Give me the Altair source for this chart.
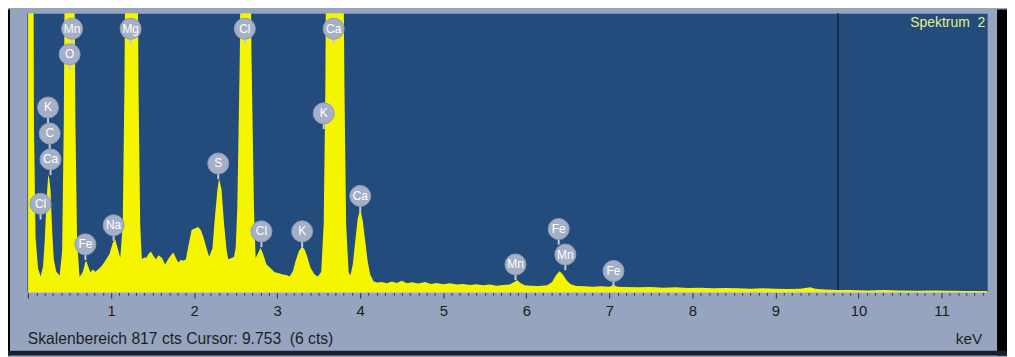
import altair as alt
import pandas as pd

# ---- spectrum ----
ENERGY_KEV = [
    0.00, 0.05, 0.07, 0.09, 0.12, 0.15, 0.18, 0.20, 0.22, 0.24, 0.25, 0.27, 0.29, 0.31, 0.34,
    0.38, 0.41, 0.43, 0.45, 0.50, 0.55, 0.57, 0.59, 0.62, 0.66, 0.69, 0.70, 0.72, 0.75, 0.78,
    0.81, 0.86, 0.89, 0.92, 0.95, 0.98, 1.02, 1.05, 1.08, 1.11, 1.14, 1.16, 1.18, 1.245, 1.31,
    1.33, 1.35, 1.37, 1.40, 1.42, 1.45, 1.48, 1.51, 1.54, 1.57, 1.61, 1.63, 1.65, 1.69, 1.72,
    1.75, 1.78, 1.81, 1.84, 1.87, 1.90, 1.93, 1.97, 2.02, 2.05, 2.08, 2.11, 2.15, 2.18, 2.22,
    2.25, 2.28, 2.30, 2.33, 2.36, 2.39, 2.41, 2.45, 2.48, 2.50, 2.52, 2.55, 2.57, 2.62, 2.67,
    2.69, 2.72, 2.74, 2.77, 2.80, 2.83, 2.87, 2.90, 2.93, 2.97, 3.02, 3.07, 3.11, 3.15, 3.19,
    3.22, 3.26, 3.30, 3.33, 3.36, 3.40, 3.45, 3.49, 3.53, 3.56, 3.58, 3.60, 3.69, 3.78, 3.81,
    3.83, 3.86, 3.88, 3.91, 3.94, 3.97, 4.00, 4.03, 4.06, 4.09, 4.12, 4.16, 4.20, 4.26, 4.32,
    4.38, 4.44, 4.50, 4.56, 4.62, 4.70, 4.78, 4.85, 4.92, 5.00, 5.08, 5.16, 5.24, 5.32, 5.40,
    5.48, 5.56, 5.64, 5.72, 5.80, 5.85, 5.89, 5.93, 5.98, 6.05, 6.15, 6.25, 6.31, 6.36, 6.40,
    6.44, 6.48, 6.53, 6.60, 6.70, 6.80, 6.90, 7.00, 7.05, 7.10, 7.20, 7.35, 7.50, 7.65, 7.80,
    7.95, 8.10, 8.25, 8.40, 8.55, 8.70, 8.85, 9.00, 9.15, 9.30, 9.42, 9.48, 9.60, 9.75, 9.90,
    10.10, 10.30, 10.50, 10.70, 10.90, 11.10, 11.30, 11.55,
]
COUNTS = [
    2500, 2500, 500, 160, 70, 46, 75, 150, 260, 335, 343, 300, 180, 95, 60,
    49, 120, 500, 1300, 3000, 1300, 500, 150, 44, 60, 88, 92, 78, 58, 66,
    60, 70, 78, 88, 100, 112, 145, 154, 128, 101, 200, 600, 1300, 3000, 1300,
    600, 200, 96, 102, 100, 112, 119, 106, 96, 108, 101, 92, 81, 98, 108,
    116, 100, 87, 95, 92, 96, 135, 183, 188, 191, 182, 162, 128, 104, 128,
    220, 300, 333, 300, 200, 125, 96, 100, 104, 130, 250, 700, 1300, 3000, 1300,
    700, 250, 100, 115, 130, 112, 82, 74, 68, 58, 55, 52, 50, 46, 62,
    90, 120, 134, 125, 105, 72, 52, 46, 60, 200, 600, 1500, 6000, 1500, 600,
    200, 60, 48, 80, 150, 215, 245, 210, 150, 90, 52, 32, 28, 30, 26,
    31, 27, 33, 26, 29, 25, 30, 24, 27, 23, 26, 22, 24, 21, 23,
    20, 22, 19, 21, 22, 29, 35, 27, 20, 19, 18, 20, 30, 50, 61,
    52, 36, 24, 18, 17, 16, 17, 16, 21, 16, 15, 14, 15, 13, 14,
    12, 13, 11, 12, 11, 10, 11, 10, 9, 10, 14, 10, 8, 6, 6,
    5, 6, 5, 4, 5, 4, 3, 3,
]

# ---- element markers ----
LABEL_ELEMENTS = ["K", "C", "Ca", "Cl", "Mn", "O", "Fe", "Na", "Mg", "S",
                  "Cl", "Cl", "K", "K", "Ca", "Ca", "Mn", "Fe", "Mn", "Fe"]
LABEL_KEV = [0.24, 0.26, 0.27, 0.15, 0.53, 0.50, 0.69, 1.03, 1.235, 2.29,
             2.61, 2.81, 3.30, 3.56, 3.68, 4.00, 5.87, 6.39, 6.47, 7.05]
LABEL_CTS = [541, 465, 389, 259, 772, 697, 140, 196, 772, 377,
             772, 178, 178, 524, 772, 282, 81, 185, 110, 62]

TICK_LABELS = list(range(1, 12))
MINOR_STEP = 0.1
CURSOR_KEV = 9.753
FULL_SCALE = 817

spec = pd.DataFrame({"keV": ENERGY_KEV, "cts": COUNTS})
labels = pd.DataFrame({"el": LABEL_ELEMENTS, "keV": LABEL_KEV, "cts": LABEL_CTS})

tick_values = [round(i * MINOR_STEP, 1) for i in range(0, 116)]
is_major = "abs(datum.value - round(datum.value)) < 0.001"

x_axis = alt.Axis(
    values=tick_values,
    labelExpr=f"({is_major}) && datum.value >= {TICK_LABELS[0]} ? format(datum.value, 'd') : ''",
    labelOverlap=False,
    labelFlush=False,
    labelFont="Liberation Sans",
    labelFontSize=15,
    labelColor="#1c1c1c",
    labelPadding=6,
    tickColor="#2a2a2a",
    tickWidth=1,
    tickSize={"condition": {"test": is_major, "value": 6}, "value": 3},
    domainColor="#c5cede",
    domainWidth=1,
    grid=False,
    title=None,
)
x_scale = alt.Scale(domain=[-0.015, 11.55], nice=False, zero=False)
y_scale = alt.Scale(domain=[0, FULL_SCALE], nice=False)

X = alt.X("keV:Q", scale=x_scale, axis=x_axis)
Y = alt.Y("cts:Q", scale=y_scale, axis=None)

one = alt.Data(values=[{"a": 1}])

# black edges of the screenshot
edges = alt.layer(
    alt.Chart(one).mark_rect(color="#000000").encode(
        x=alt.value(-19), x2=alt.value(-17), y=alt.value(-4), y2=alt.value(345)),
    alt.Chart(one).mark_rect(color="#000000").encode(
        x=alt.value(978), x2=alt.value(990), y=alt.value(-4), y2=alt.value(345)),
    alt.Chart(one).mark_rect(color="#1a1f2a").encode(
        x=alt.value(-19), x2=alt.value(990), y=alt.value(340), y2=alt.value(345)),
)

cursor = alt.Chart(alt.Data(values=[{"keV": CURSOR_KEV}])).mark_rule(
    color="#0c203d", strokeWidth=1.5
).encode(x=X)

area = alt.Chart(spec).mark_area(
    color="#f6f500", clip=True, interpolate="linear"
).encode(x=X, y=Y)

stems = alt.Chart(labels).transform_calculate(
    stem_end="datum.cts - 46"
).mark_rule(color="#c4cbda", strokeWidth=2).encode(
    x=X, y=Y, y2=alt.Y2("stem_end:Q")
)

circles = alt.Chart(labels).mark_circle(
    size=450, color="#a5b0c7", opacity=1, stroke="#8e9bb7", strokeWidth=1
).encode(x=X, y=Y)

texts = alt.Chart(labels).mark_text(
    color="#ffffff", fontSize=12, font="Liberation Sans", align="center", baseline="middle"
).encode(x=X, y=Y, text="el:N")

spektrum = alt.Chart(one).mark_text(
    text="Spektrum\u00a0 2", color="#e9ef86", fontSize=14, font="Liberation Sans",
    align="right", baseline="middle"
).encode(x=alt.value(966), y=alt.value(10))

footer = alt.Chart(one).mark_text(
    text="Skalenbereich 817 cts Cursor: 9.753\u00a0 (6 cts)", color="#1e1e1e", fontSize=15.8,
    font="Liberation Sans", align="left", baseline="middle"
).encode(x=alt.value(1), y=alt.value(328))

kev = alt.Chart(one).mark_text(
    text="keV", color="#1e1e1e", fontSize=15.5, font="Liberation Sans",
    align="right", baseline="middle"
).encode(x=alt.value(963), y=alt.value(328))

chart = alt.layer(
    edges, cursor, area, stems, circles, texts, spektrum, footer, kev
).properties(
    width=968,
    height=281,
    padding={"left": 19, "top": 4, "right": 20, "bottom": 64},
    autosize=alt.AutoSizeParams(type="none"),
    background="#96a4bf",
).configure_view(
    fill="#234b7c", stroke="transparent"
)

chart.save("out.html", embed_options={"renderer": "svg", "actions": False})
